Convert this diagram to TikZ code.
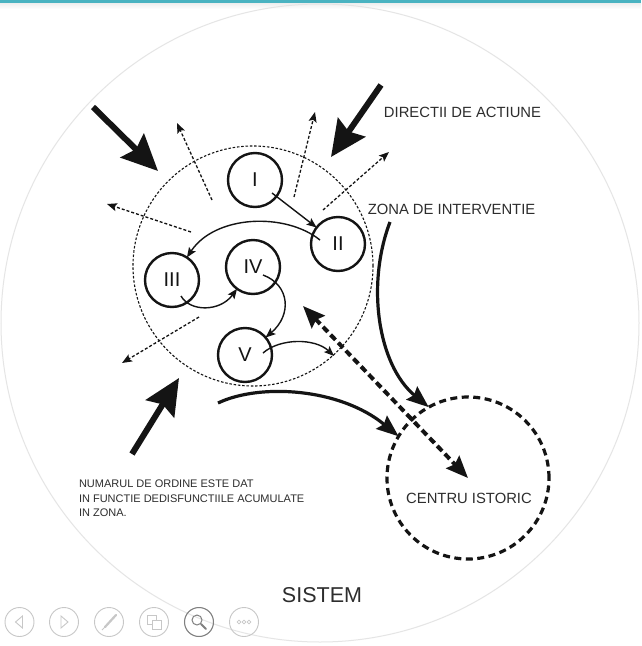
\documentclass[tikz,border=0pt]{standalone}
\usepackage{fontspec}
\setmainfont{Liberation Sans}
\usetikzlibrary{arrows.meta,calc}
\definecolor{topbar}{RGB}{74,179,193}
\definecolor{ink}{RGB}{20,20,20}
\definecolor{txt}{RGB}{45,45,45}
\begin{document}
\begin{tikzpicture}[x=1pt,y=-1pt,
  every node/.style={inner sep=0pt, outer sep=0pt},
  numc/.style={circle, draw=ink, line width=2.4pt, minimum size=54pt, font=\fontsize{20}{20}\selectfont, text=ink},
  lbl/.style={font=\fontsize{14.8}{16}\selectfont, text=txt},
  note/.style={font=\fontsize{11}{12}\selectfont, text=txt, anchor=west},
  thinarr/.style={draw=ink, line width=1.4pt, -{Stealth[length=10pt,width=8pt,inset=2pt]}},
  dasharr/.style={draw=ink, line width=1.3pt, dash pattern=on 3pt off 2pt, -{Stealth[length=10pt,width=8pt,inset=2pt]}},
  bigarr/.style={draw=ink, line width=6pt, -{Stealth[length=36pt,width=33pt,inset=5pt]}},
  curvarr/.style={draw=ink, line width=3.2pt, -{Stealth[length=22pt,width=17pt,inset=3pt]}},
  dblarr/.style={draw=ink, line width=4pt, dash pattern=on 7pt off 4pt, {Stealth[length=22pt,width=18pt,inset=3pt]}-{Stealth[length=22pt,width=18pt,inset=3pt]}},
  icon/.style={draw=black!22, line width=0.9pt},
]
\useasboundingbox (0,0) rectangle (641,646);
\fill[white] (0,0) rectangle (641,646);
% top bar
\fill[topbar] (0,0) rectangle (641,3.5);
\shade[top color=black!6, bottom color=white] (0,3.5) rectangle (641,9);
% system circle
\node[circle, draw=black!10, line width=1pt, minimum size=638pt] (sys) at (320,323) {};
% intervention zone
\node[circle, draw=ink, line width=1.1pt, dash pattern=on 2.5pt off 1.8pt, minimum size=240pt] (zone) at (253,266) {};
% historic centre
\node[circle, draw=ink, line width=3.2pt, dash pattern=on 7pt off 4.5pt, minimum size=162pt] (ci) at (468,478) {};
\node[lbl] (citext) at (469,498.5) {CENTRU ISTORIC};
% numbered zones
\node[numc] (n1) at (255,180) {I};
\node[numc] (n2) at (338,244) {II};
\node[numc] (n3) at (172,280) {III};
\node[numc] (n4) at (253,267) {IV};
\node[numc] (n5) at (245,355) {V};
% labels
\node[lbl] (dir) at (462.5,112) {DIRECTII DE ACTIUNE};
\node[lbl] (zon) at (451.5,209) {ZONA DE INTERVENTIE};
\node[note] (t1) at (79,484) {NUMARUL DE ORDINE ESTE DAT};
\node[note] (t2) at (79,499) {IN FUNCTIE DEDISFUNCTIILE ACUMULATE};
\node[note] (t3) at (79,513) {IN ZONA.};
\node[font=\fontsize{21.5}{22}\selectfont, text=txt] (sis) at (322,595.5) {SISTEM};
% free-end coordinates
\coordinate (d1s) at (212,200); \coordinate (d1e) at (177,123);
\coordinate (d2s) at (294,197); \coordinate (d2e) at (315,112);
\coordinate (d3s) at (323,210); \coordinate (d3e) at (389,152);
\coordinate (d4s) at (191,232); \coordinate (d4e) at (107,204);
\coordinate (d5s) at (199,317); \coordinate (d5e) at (122,363);
\coordinate (b1s) at (93,107);  \coordinate (b1e) at (158,171);
\coordinate (b2s) at (381,85);  \coordinate (b2e) at (331,157);
\coordinate (b3s) at (132,454); \coordinate (b3e) at (179,378);
\coordinate (c1s) at (390,222);
\coordinate (c2s) at (218,403);
\coordinate (dbs) at (303,306);
\coordinate (v5e) at (334,356);
% arrows between zones
\draw[thinarr] ($(n1)+(17,13)$) -- (n2);
\draw[thinarr] ($(n2)+(-18,-4)$) .. controls (285,212) and (215,215) .. (n3);
\draw[thinarr] ($(n3)+(9,16)$) .. controls (190,312) and (220,312) .. (n4);
\draw[thinarr] ($(n4)+(10,8)$) .. controls (290,285) and (292,315) .. (n5);
\draw[thinarr] ($(n5)+(18,-2)$) .. controls (280,338) and (315,338) .. (v5e);
% outward dashed arrows
\draw[dasharr] (d1s) -- (d1e);
\draw[dasharr] (d2s) -- (d2e);
\draw[dasharr] (d3s) -- (d3e);
\draw[dasharr] (d4s) -- (d4e);
\draw[dasharr] (d5s) -- (d5e);
% action directions
\draw[bigarr] (b1s) -- (b1e);
\draw[bigarr] (b2s) -- (b2e);
\draw[bigarr] (b3s) -- (b3e);
% curved arrows to centre
\draw[curvarr] (c1s) .. controls (366,285) and (378,365) .. (ci.119);
\draw[curvarr] (c2s) .. controls (260,383) and (340,388) .. (ci.149);
\draw[dblarr] (dbs) -- (ci.center);
% presentation controls
\foreach \i/\x in {1/19.5,2/64,3/109,4/154,5/199,6/244}
  \node[icon, circle, minimum size=29pt] (ic\i) at (\x,622) {};
\draw[icon] ($(ic1)+(3,-6)$) -- ($(ic1)+(-4,0)$) -- ($(ic1)+(3,6)$) -- cycle;
\draw[icon] ($(ic2)+(-3,-6)$) -- ($(ic2)+(4,0)$) -- ($(ic2)+(-3,6)$) -- cycle;
\draw[icon, line width=2.2pt, line cap=round] ($(ic3)+(-4,5)$) -- ($(ic3)+(7,-7)$);
\draw[icon] ($(ic3)+(-4,5)$) -- ($(ic3)+(-7,8)$);
\draw[icon, fill=white] ($(ic4)+(-7,-7)$) rectangle ($(ic4)+(2,2)$);
\draw[icon, fill=white] ($(ic4)+(-2,-2)$) rectangle ($(ic4)+(7,7)$);
\node[circle, draw=black!50, line width=1pt, minimum size=29pt] at (ic5) {};
\draw[draw=black!50, line width=1pt] ($(ic5)+(-2,-2)$) circle (5);
\draw[draw=black!50, line width=2pt, line cap=round] ($(ic5)+(2,2)$) -- ($(ic5)+(7,7)$);
\foreach \dx in {-5,0,5} \draw[icon, line width=0.7pt] ($(ic6)+(\dx,0)$) circle (1.8);
\end{tikzpicture}
\end{document}
